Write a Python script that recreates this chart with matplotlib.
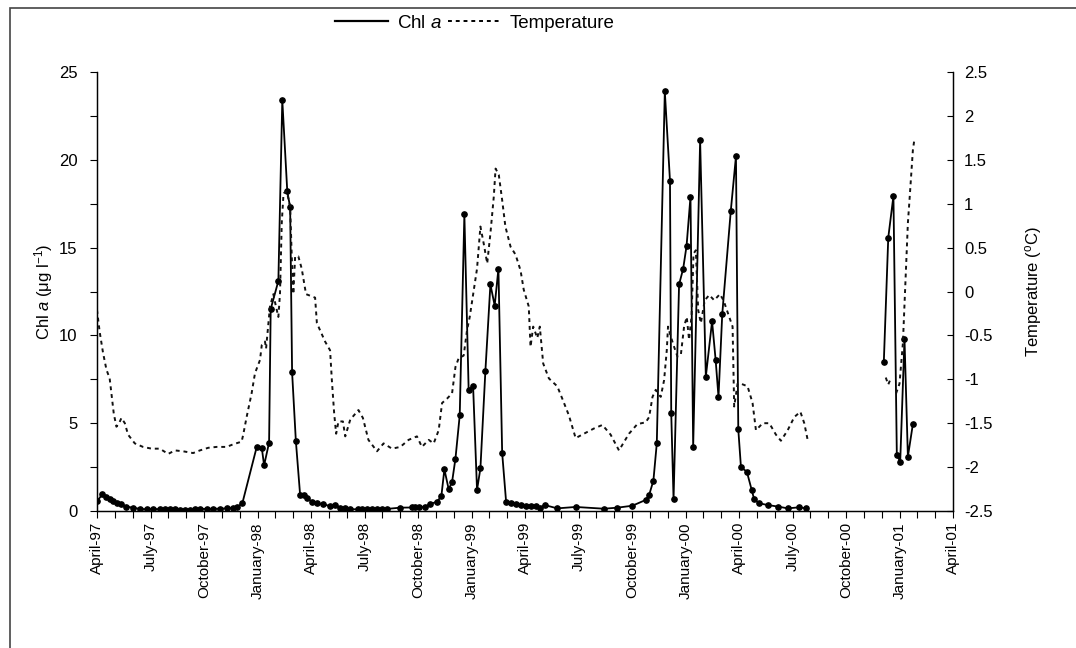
import numpy as np
import matplotlib
matplotlib.use("Agg")
import matplotlib.pyplot as plt
from matplotlib.lines import Line2D
from matplotlib.patches import Rectangle

plt.rcParams['font.family'] = ['Liberation Sans', 'DejaVu Sans']
plt.rcParams['mathtext.fontset'] = 'custom'
plt.rcParams['mathtext.rm'] = 'Liberation Sans'
plt.rcParams['mathtext.it'] = 'Liberation Sans:italic'

nan = np.nan

# x values: months since April 1997
chl_month = [0.0, 0.30, 0.53, 0.71, 0.90, 1.12, 1.37, 1.65, 2.02, 2.40, 2.78, 3.13, 3.52, 3.80,
             4.08, 4.37, 4.65, 4.93, 5.21, 5.49, 5.77, 6.16, 6.50, 6.89, 7.29, 7.62, 7.83, 8.15,
             8.96, 9.24, 9.37, 9.65, 9.74, 10.17, 10.39, 10.67, 10.83, 10.94, 11.15, 11.39, 11.61,
             11.80, 12.04, 12.33, 12.70, 13.07, 13.35, 13.63, 13.92, 14.20, 14.65, 14.87, 15.15,
             15.43, 15.71, 15.99, 16.27, 17.00, 17.67, 17.85, 18.07, 18.41, 18.69, 19.07, 19.31,
             19.48, 19.72, 19.91, 20.10, 20.34, 20.60, 20.84, 21.09, 21.31, 21.50, 21.78, 22.06,
             22.30, 22.51, 22.72, 22.94, 23.19, 23.47, 23.75, 24.03, 24.31, 24.59, 24.83, 25.10,
             25.81, 26.84, 28.43, 29.18, 30.02, 30.77, 30.96, 31.20, 31.39, 31.84, 32.13, 32.20,
             32.33, 32.64, 32.87, 33.06, 33.28, 33.43, 33.82, 34.14, 34.49, 34.69, 34.85, 35.06,
             35.54, 35.83, 35.96, 36.11, 36.44, 36.71, 36.85, 37.13, 37.61, 38.20, 38.73, 39.38,
             39.76, 42.0, 44.12, 44.37, 44.66, 44.85, 45.04, 45.28, 45.47, 45.75]
chl_value = [0.55, 0.95, 0.78, 0.68, 0.57, 0.47, 0.38, 0.25, 0.19, 0.12, 0.10, 0.12, 0.10, 0.10,
             0.10, 0.09, 0.08, 0.05, 0.03, 0.10, 0.12, 0.12, 0.13, 0.13, 0.15, 0.18, 0.20, 0.44,
             3.66, 3.60, 2.60, 3.90, 11.5, 13.1, 23.4, 18.2, 17.3, 7.9, 4.0, 0.91, 0.91,
             0.72, 0.53, 0.44, 0.38, 0.28, 0.34, 0.19, 0.15, 0.10, 0.10, 0.10, 0.12,
             0.12, 0.12, 0.10, 0.12, 0.19, 0.20, 0.21, 0.20, 0.25, 0.40, 0.53, 0.85,
             2.37, 1.24, 1.65, 2.98, 5.45, 16.9, 6.9, 7.1, 1.2, 2.43, 8.0, 12.9,
             11.7, 13.8, 3.3, 0.53, 0.44, 0.40, 0.32, 0.30, 0.30, 0.30, 0.17, 0.34,
             0.15, 0.23, 0.13, 0.19, 0.30, 0.63, 0.91, 1.73, 3.85, 23.9, 18.8, 5.56,
             0.67, 12.9, 13.8, 15.1, 17.9, 3.66, 21.1, 7.65, 10.8, 8.6, 6.5, 11.2,
             17.1, 20.2, 4.65, 2.49, 2.24, 1.2, 0.67, 0.44, 0.34, 0.25, 0.15, 0.21,
             0.15, nan, 8.47, 15.57, 17.94, 3.19, 2.81, 9.8, 3.09, 4.95]

temp_month = [0.0, 0.15, 0.34, 0.53, 0.71, 0.81, 0.94, 1.09, 1.24, 1.37, 1.56, 1.74, 2.12, 2.58,
              3.06, 3.52, 3.99, 4.37, 4.83, 5.39, 5.77, 6.24, 6.71, 7.27, 7.64, 8.11, 8.20, 8.39,
              8.67, 8.86, 9.14, 9.24, 9.42, 9.48, 9.70, 9.89, 9.98, 10.17, 10.26, 10.36, 10.46,
              10.64, 10.83, 10.92, 11.01, 11.11, 11.29, 11.48, 11.72, 12.23, 12.33, 12.79, 13.07,
              13.17, 13.30, 13.41, 13.54, 13.79, 13.92, 14.20, 14.66, 14.91, 15.22, 15.70, 16.07,
              16.54, 17.01, 17.47, 17.94, 18.22, 18.60, 18.88, 19.16, 19.35, 19.63, 19.91, 20.10,
              20.28, 20.56, 20.75, 20.90, 21.31, 21.50, 21.69, 21.88, 22.06, 22.25, 22.35, 22.53,
              22.72, 22.90, 23.19, 23.47, 23.75, 23.93, 24.21, 24.31, 24.46, 24.69, 24.83, 25.02,
              25.34, 25.81, 26.09, 26.46, 26.84, 27.30, 27.87, 28.34, 28.80, 29.27, 29.83, 30.30,
              30.77, 30.96, 31.15, 31.33, 31.61, 31.80, 31.95, 32.02, 32.17, 32.36, 32.55, 32.74,
              32.92, 33.07, 33.20, 33.34, 33.45, 33.58, 33.71, 33.86, 34.08, 34.33, 34.61, 34.93,
              35.13, 35.45, 35.64, 35.73, 35.92, 36.11, 36.48, 36.76, 36.95, 37.33, 37.70, 38.07,
              38.35, 38.73, 39.10, 39.44, 39.66, 39.85, 42.0, 44.23, 44.37, 44.51, 44.65,
              44.81, 45.00, 45.19, 45.28, 45.47, 45.56, 45.75, 45.84]
temp_value = [-0.21, -0.46, -0.70, -0.89, -0.99, -1.16, -1.39, -1.54, -1.50, -1.44, -1.50, -1.63,
              -1.73, -1.77, -1.79, -1.79, -1.85, -1.81, -1.82, -1.84, -1.81, -1.78, -1.77, -1.77,
              -1.74, -1.71, -1.63, -1.43, -1.16, -0.93, -0.78, -0.61, -0.57, -0.65, -0.17, -0.03,
              -0.12, -0.29, -0.03, 0.78, 1.12, 1.14, 0.97, 0.40, -0.03, 0.40, 0.40, 0.26, -0.03,
              -0.07, -0.36, -0.57, -0.67, -1.01, -1.39, -1.62, -1.48, -1.48, -1.65, -1.46, -1.35,
              -1.44, -1.69, -1.82, -1.73, -1.79, -1.77, -1.69, -1.65, -1.77, -1.69, -1.73, -1.58,
              -1.27, -1.22, -1.16, -0.86, -0.76, -0.73, -0.44, -0.29, 0.26, 0.74, 0.54, 0.32,
              0.66, 1.08, 1.40, 1.33, 1.04, 0.74, 0.51, 0.42, 0.24, 0.02, -0.17, -0.63, -0.40,
              -0.53, -0.40, -0.82, -0.99, -1.08, -1.22, -1.41, -1.67, -1.62, -1.56, -1.52, -1.63,
              -1.81, -1.62, -1.51, -1.49, -1.43, -1.20, -1.12, -1.20, -1.01, -0.67, -0.40, -0.51,
              -0.63, -0.74, -0.72, -0.40, -0.29, -0.55, -0.28, 0.43, 0.47, -0.21, -0.36, -0.10,
              -0.04, -0.10, -0.03, -0.10, -0.29, -0.40, -1.31, -1.05, -1.05, -1.08, -1.27, -1.58,
              -1.50, -1.50, -1.63, -1.70, -1.58, -1.43, -1.37, -1.50, -1.69, nan, -0.98, -1.06,
              -0.99, nan, -1.16, -1.05, -0.59, -0.14, 0.78, 1.04, 1.61, 1.74]

tick_labels = ['April-97', 'July-97', 'October-97', 'January-98', 'April-98', 'July-98',
               'October-98', 'January-99', 'April-99', 'July-99', 'October-99', 'January-00',
               'April-00', 'July-00', 'October-00', 'January-01', 'April-01']

fig = plt.figure(figsize=(10.76, 6.48), dpi=100)
ax = fig.add_axes([97/1076, 1 - 511/648, (953 - 97)/1076, (511 - 72)/648])
ax2 = ax.twinx()

ax.plot(chl_month, chl_value, color='black', lw=1.3, marker='o', ms=3.8,
        markerfacecolor='black', markeredgecolor='black', zorder=3)
ax2.plot(temp_month, temp_value, color='#111111', lw=1.4, linestyle=(0, (2.0, 2.0)), zorder=2)

ax.set_xlim(0, 48)
ax.set_ylim(0, 25)
ax2.set_ylim(-2.5, 2.5)

ax.set_xticks(range(49))
labels = []
for i in range(49):
    labels.append(tick_labels[i // 3] if i % 3 == 0 else '')
ax.set_xticklabels(labels, rotation=90, fontsize=11)
ax.tick_params(axis='x', direction='out', length=5, width=0.8, pad=3)

ax.set_yticks(np.arange(0, 25.1, 2.5))
ax.set_yticklabels(['0' if v == 0 else (str(int(v)) if v % 5 == 0 else '') for v in np.arange(0, 25.1, 2.5)],
                   fontsize=12)
ax.tick_params(axis='y', direction='out', length=5, width=0.8, pad=9)

ax2.set_yticks(np.arange(-2.5, 2.51, 0.5))
ax2.set_yticklabels([('%g' % round(v, 1)) for v in np.arange(-2.5, 2.51, 0.5)], fontsize=12)
ax2.tick_params(axis='y', direction='in', length=4, width=0.8, pad=8)

for a in (ax, ax2):
    a.spines['top'].set_visible(False)
    for s in ('left', 'right', 'bottom'):
        a.spines[s].set_linewidth(0.9)

ax.set_ylabel('Chl $\\it{a}$ ($\\mathrm{\\mu}$g l$^{-1}$)', fontsize=12, labelpad=3)
ax2.set_ylabel('Temperature ($^{\\mathrm{o}}$C)', fontsize=12, labelpad=22)

handles = [Line2D([], [], color='black', lw=1.6),
           Line2D([], [], color='black', lw=1.4, linestyle=(0, (2.0, 2.0)))]
fig.legend(handles, ['Chl $\\it{a}$', 'Temperature'], loc='center', ncol=2,
           bbox_to_anchor=(475/1076, 1 - 23/648), frameon=False, fontsize=13.5,
           handlelength=2.8, columnspacing=0.3, handletextpad=0.5)

fig.add_artist(Rectangle((10/1076, -0.05), 1.1, 1 - 8/648 + 0.05, transform=fig.transFigure,
                         fill=False, edgecolor='#444444', lw=1.2))

fig.savefig('out.png', dpi=100)
